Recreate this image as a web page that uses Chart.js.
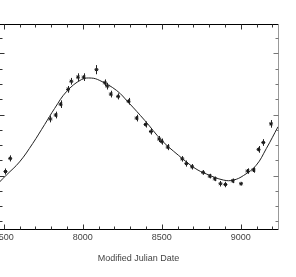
<!DOCTYPE html>
<html>
<head>
<meta charset="utf-8">
<script src="https://cdn.jsdelivr.net/npm/chart.js@4.4.1/dist/chart.umd.min.js"></script>
<style>
  html, body { margin: 0; padding: 0; background: #fff; overflow: hidden; }
  /* the frame is a bit wider than the window: the left axis falls just outside */
  #wrap { position: absolute; left: -20px; top: 0; width: 316px; height: 277px; }
</style>
</head>
<body>
<div id="wrap"><canvas id="mjd-chart"></canvas></div>
<script>
// Observed points: date, value, half error bar
const obsMjd = [7511, 7541, 7795, 7829, 7860, 7907, 7928, 7970, 8006, 8087,
                8140, 8156, 8178, 8224, 8290, 8341, 8398, 8432, 8484, 8500,
                8538, 8630, 8656, 8692, 8762, 8804, 8836, 8872, 8903, 8950,
                9002, 9043, 9081, 9113, 9143, 9192];
const obsVal = [4.27, 5.13, 7.71, 7.97, 8.68, 9.65, 10.18, 10.45, 10.45, 10.94,
                10.08, 9.86, 9.34, 9.19, 8.87, 7.77, 7.35, 6.89, 6.40, 6.23,
                5.87, 5.10, 4.79, 4.58, 4.21, 3.97, 3.79, 3.47, 3.42, 3.66,
                3.47, 4.30, 4.37, 5.72, 6.17, 7.39];
const obsErr = [0.20, 0.20, 0.22, 0.22, 0.25, 0.22, 0.22, 0.25, 0.25, 0.30,
                0.22, 0.22, 0.22, 0.20, 0.22, 0.22, 0.20, 0.20, 0.20, 0.20,
                0.20, 0.18, 0.20, 0.18, 0.15, 0.15, 0.15, 0.18, 0.18, 0.15,
                0.10, 0.18, 0.18, 0.22, 0.22, 0.25];

// Fitted curve
const fitMjd = [7473, 7516, 7600, 7683, 7759, 7822, 7897, 7992, 8055, 8108,
                8214, 8288, 8394, 8500, 8605, 8711, 8785, 8891, 8954, 9018,
                9098, 9162, 9236];
const fitVal = [3.58, 4.03, 4.90, 6.10, 7.35, 8.40, 9.50, 10.29, 10.39, 10.23,
                9.58, 8.81, 7.60, 6.31, 5.34, 4.48, 4.10, 3.71, 3.71, 4.01,
                4.68, 5.77, 7.20];

// Axes
const xLabelTicks = [7500, 8000, 8500, 9000];
const xMinorStep = 100;
const yTicks = [1, 2, 3, 4, 5, 6, 7, 8, 9, 10, 11, 12, 13];
const yMajorTicks = [4, 8, 12];

const labelFont = { family: 'Liberation Sans', size: 9 };

/**
 * Trace une ligne nette d'un pixel
 */
function strokeLine(ctx, x1, y1, x2, y2) {
    ctx.beginPath();
    ctx.moveTo(x1, y1);
    ctx.lineTo(x2, y2);
    ctx.stroke();
}

// Frame with inward ticks on all four sides
const frameTicks = {
    id: 'frameTicks',
    afterDatasetsDraw(chart) {
        const { ctx, chartArea: a, scales: { x, y } } = chart;
        const L = Math.round(a.left) + 0.5, R = Math.round(a.right) + 0.5;
        const T = Math.round(a.top) + 0.5, B = Math.round(a.bottom) + 0.5;
        ctx.save();
        ctx.lineWidth = 1;
        ctx.strokeStyle = '#000';
        strokeLine(ctx, L, T, R, T);
        strokeLine(ctx, L, B, R, B);
        strokeLine(ctx, L, T, L, B);
        ctx.strokeStyle = '#999';
        strokeLine(ctx, R, T, R, B);

        ctx.strokeStyle = '#333';
        for (let v = Math.ceil(x.min / xMinorStep) * xMinorStep; v <= x.max; v += xMinorStep) {
            const px = Math.round(x.getPixelForValue(v)) + 0.5;
            const len = xLabelTicks.includes(v) ? 5 : 3;
            strokeLine(ctx, px, B, px, B - len);
            strokeLine(ctx, px, T, px, T + len);
        }
        yTicks.forEach(v => {
            const py = Math.round(y.getPixelForValue(v)) + 0.5;
            const len = yMajorTicks.includes(v) ? 5 : 3;
            strokeLine(ctx, L, py, L + len, py);
            ctx.strokeStyle = '#777';
            strokeLine(ctx, R, py, R - len, py);
            ctx.strokeStyle = '#333';
        });
        ctx.restore();
    }
};

// Vertical error bars on the observed points
const errorBars = {
    id: 'errorBars',
    afterDatasetsDraw(chart) {
        const meta = chart.getDatasetMeta(1);
        const yScale = chart.scales.y;
        const ctx = chart.ctx;
        ctx.save();
        ctx.strokeStyle = '#222';
        ctx.lineWidth = 1;
        meta.data.forEach((pt, i) => {
            const px = Math.round(pt.x) + 0.5;
            strokeLine(ctx, px, yScale.getPixelForValue(obsVal[i] + obsErr[i]),
                            px, yScale.getPixelForValue(obsVal[i] - obsErr[i]));
        });
        ctx.restore();
    }
};

const ctx = document.getElementById('mjd-chart').getContext('2d');
new Chart(ctx, {
    type: 'scatter',
    data: {
        datasets: [{
            label: 'Fit',
            data: fitMjd.map((m, i) => ({ x: m, y: fitVal[i] })),
            showLine: true,
            borderColor: '#222',
            borderWidth: 1,
            pointRadius: 0,
            tension: 0.4,
            fill: false
        }, {
            label: 'Observed',
            data: obsMjd.map((m, i) => ({ x: m, y: obsVal[i] })),
            pointStyle: 'star',
            pointRadius: 2,
            borderColor: '#111',
            backgroundColor: '#111',
            borderWidth: 1
        }]
    },
    options: {
        responsive: true,
        maintainAspectRatio: false,
        animation: false,
        layout: { padding: { left: 19, right: 18, top: 24, bottom: 13 } },
        plugins: {
            legend: { display: false },
            tooltip: { enabled: false }
        },
        scales: {
            x: {
                type: 'linear',
                min: 7470,
                max: 9236,
                afterBuildTicks: scale => {
                    scale.ticks = xLabelTicks.map(v => ({ value: v }));
                },
                grid: { display: false, drawTicks: false },
                border: { display: false },
                ticks: {
                    font: labelFont,
                    color: '#444',
                    padding: 3,
                    maxRotation: 0,
                    autoSkip: false,
                    callback: v => String(v)
                },
                title: {
                    display: true,
                    text: 'Modified Julian Date',
                    font: labelFont,
                    color: '#444',
                    padding: { top: 7, bottom: 0 }
                }
            },
            y: {
                type: 'linear',
                min: 0.48,
                max: 13.93,
                display: false
            }
        }
    },
    plugins: [frameTicks, errorBars]
});
</script>
</body>
</html>
